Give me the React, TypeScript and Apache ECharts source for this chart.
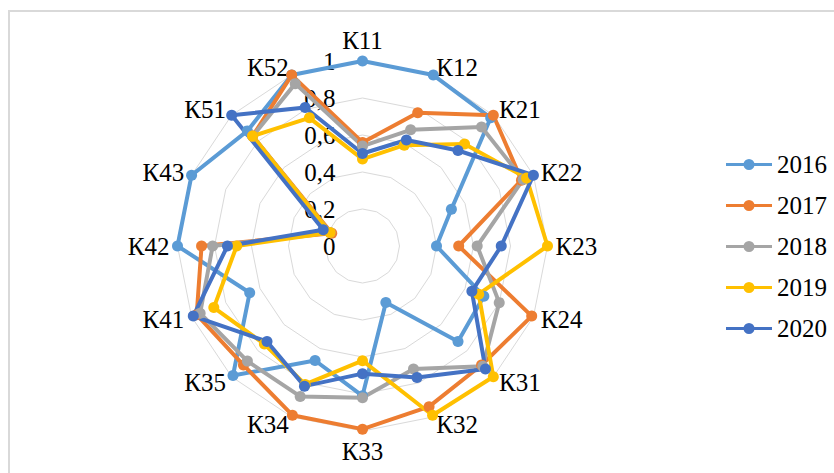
import React, { useEffect, useRef } from "react";
import * as echarts from "echarts";

const indicatorNames = ["К11", "К12", "К21", "К22", "К23", "К24", "К31", "К32", "К33", "К34", "К35", "К41", "К42", "К43", "К51", "К52"];
const years = ["2016", "2017", "2018", "2019", "2020"];
const colors = ["#5B9BD5", "#ED7D31", "#A5A5A5", "#FFC000", "#4472C4"];

const values2016 = [1.0, 1.0, 0.98, 0.52, 0.4, 0.71, 0.73, 0.33, 0.81, 0.67, 0.99, 0.66, 1.0, 1.0, 0.88, 1.0];
const values2017 = [0.56, 0.78, 1.0, 0.93, 0.52, 0.99, 0.91, 0.94, 0.99, 0.99, 0.91, 0.97, 0.87, 0.18, 0.84, 1.0];
const values2018 = [0.54, 0.68, 0.91, 0.94, 0.62, 0.8, 0.92, 0.72, 0.82, 0.88, 0.88, 0.95, 0.81, 0.19, 0.84, 0.95];
const values2019 = [0.47, 0.59, 0.78, 0.96, 1.0, 0.68, 1.0, 0.99, 0.62, 0.81, 0.75, 0.87, 0.68, 0.19, 0.84, 0.75];
const values2020 = [0.5, 0.62, 0.73, 1.0, 0.75, 0.64, 0.94, 0.77, 0.69, 0.82, 0.73, 0.99, 0.73, 0.23, 1.0, 0.81];

const seriesValues = [values2016, values2017, values2018, values2019, values2020];

const FONT = "Liberation Serif";
const FONT_SIZE = 25;

// legend icon: a line with a circle marker
const LEGEND_ICON =
  "path://M0,4.5 L46,4.5 L46,7.5 L0,7.5 Z M28.5,6 A5.5,5.5 0 1,1 17.5,6 A5.5,5.5 0 1,1 28.5,6 Z";

export default function App() {
  const ref = useRef<HTMLDivElement>(null);

  useEffect(() => {
    if (!ref.current) return;
    const chart = echarts.init(ref.current, undefined, { renderer: "svg" });
    const n = indicatorNames.length;
    // ECharts lays radar indicators counterclockwise; reorder to get clockwise
    const order = indicatorNames.map((_, i) => (n - i) % n);

    const option: any = {
      animation: false,
      backgroundColor: "#fff",
      graphic: [
        {
          type: "rect",
          shape: { x: 9, y: 11, width: 840, height: 480 },
          style: { fill: "none", stroke: "#D9D9D9", lineWidth: 2 },
          silent: true,
        },
      ],
      legend: {
        orient: "vertical",
        left: 721,
        top: 147,
        itemWidth: 46,
        itemHeight: 12,
        itemGap: 16,
        icon: LEGEND_ICON,
        selectedMode: false,
        data: years,
        textStyle: { fontSize: FONT_SIZE, fontFamily: FONT, color: "#000" },
      },
      radar: {
        center: [362.5, 246],
        radius: 185,
        startAngle: 90,
        shape: "polygon",
        splitNumber: 5,
        nameGap: 8,
        axisName: { color: "#000", fontSize: FONT_SIZE, fontFamily: FONT },
        splitLine: { lineStyle: { color: "#D9D9D9", width: 1 } },
        splitArea: { show: false },
        axisLine: { show: false },
        axisTick: { show: false },
        axisLabel: { show: false },
        indicator: order.map((i, k) => {
          const ind: any = { name: indicatorNames[i], min: 0, max: 1 };
          if (k === 0) {
            ind.axisLabel = {
              show: true,
              color: "#000",
              fontSize: FONT_SIZE,
              fontFamily: FONT,
              margin: 27,
              formatter: (v: number) => String(Number(v.toFixed(1))).replace(".", ","),
            };
          }
          return ind;
        }),
      },
      series: years.map((y, s) => ({
        type: "radar",
        name: y,
        symbol: "circle",
        symbolSize: 11,
        lineStyle: { width: 4, color: colors[s] },
        itemStyle: { color: colors[s] },
        data: [{ name: y, value: order.map((i) => seriesValues[s][i]) }],
      })),
    };

    chart.setOption(option);
    return () => chart.dispose();
  }, []);

  return (
    <div
      ref={ref}
      style={{ position: "absolute", left: 0, top: 0, width: 834, height: 473 }}
    />
  );
}
